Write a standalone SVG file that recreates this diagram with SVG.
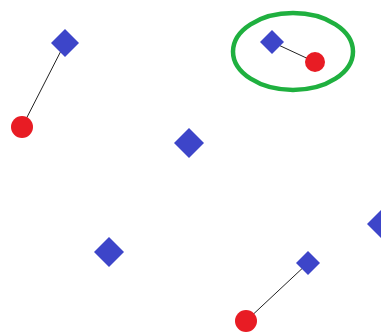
<svg xmlns="http://www.w3.org/2000/svg" width="381" height="332" viewBox="0 0 381 332">
<style>
.d{fill:#3d45c9}
.c{fill:#e81c24}
.e{stroke:#222;stroke-width:1;fill:none}
.g{fill:none;stroke:#1fb03f;stroke-width:4.5}
</style>
<rect width="381" height="332" fill="#fff"/>
<g id="connectors">
<line class="e" x1="65" y1="43" x2="22" y2="127"/>
<line class="e" x1="272" y1="42" x2="315" y2="62"/>
<line class="e" x1="308" y1="263" x2="246" y2="321"/>
</g>
<g id="highlight"><ellipse class="g" cx="293" cy="51.5" rx="60" ry="38.5"/></g>
<g id="n1"><polygon class="d" points="65,29 79,43 65,57 51,43"/></g>
<g id="n2"><circle class="c" cx="22" cy="127" r="11"/></g>
<g id="n3"><polygon class="d" points="272,30 284,42 272,54 260,42"/></g>
<g id="n4"><circle class="c" cx="315" cy="62" r="10"/></g>
<g id="n5"><polygon class="d" points="189,128 204,143 189,158 174,143"/></g>
<g id="n6"><polygon class="d" points="109,237 124,252 109,267 94,252"/></g>
<g id="n7"><polygon class="d" points="308,251 320,263 308,275 296,263"/></g>
<g id="n8"><circle class="c" cx="246" cy="321" r="11"/></g>
<g id="n9"><polygon class="d" points="381,210 395,224 381,238 367,224"/></g>
</svg>
